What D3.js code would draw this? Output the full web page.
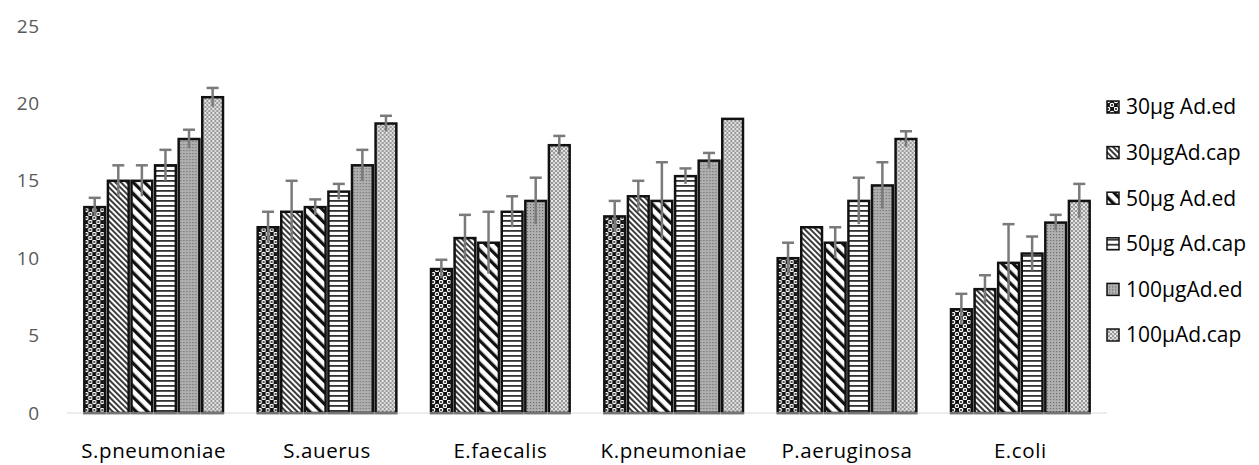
<!DOCTYPE html>
<html>
<head>
<meta charset="utf-8">
<script src="https://cdn.jsdelivr.net/npm/d3@7"></script>
<style>
  body { margin: 0; background: #fff; }
  svg { display: block; font-family: "Open Sans", "Noto Sans", sans-serif; }
</style>
</head>
<body>
<svg class="chart" width="1259" height="465"></svg>
<script>
// data
const categories = ["S.pneumoniae", "S.auerus", "E.faecalis", "K.pneumoniae", "P.aeruginosa", "E.coli"];
const seriesNames = ["30µg Ad.ed", "30µgAd.cap", "50µg Ad.ed", "50µg Ad.cap", "100µgAd.ed", "100µAd.cap"];

// one array per series, values in category order
const ed30 = [13.3, 12.0, 9.3, 12.7, 10.0, 6.7];
const cap30 = [15.0, 13.0, 11.3, 14.0, 12.0, 8.0];
const ed50 = [15.0, 13.3, 11.0, 13.7, 11.0, 9.7];
const cap50 = [16.0, 14.3, 13.0, 15.3, 13.7, 10.3];
const ed100 = [17.7, 16.0, 13.7, 16.3, 14.7, 12.3];
const cap100 = [20.4, 18.7, 17.3, 19.0, 17.7, 13.7];

// error (±) per series
const ed30Err = [0.6, 1.0, 0.6, 1.0, 1.0, 1.0];
const cap30Err = [1.0, 2.0, 1.5, 1.0, 0, 0.9];
const ed50Err = [1.0, 0.5, 2.0, 2.5, 1.0, 2.5];
const cap50Err = [1.0, 0.5, 1.0, 0.5, 1.5, 1.1];
const ed100Err = [0.6, 1.0, 1.5, 0.5, 1.5, 0.5];
const cap100Err = [0.6, 0.5, 0.6, 0, 0.5, 1.1];

const yTicks = [0, 5, 10, 15, 20, 25];

const values = [ed30, cap30, ed50, cap50, ed100, cap100];
const errors = [ed30Err, cap30Err, ed50Err, cap50Err, ed100Err, cap100Err];

const svg = d3.select(".chart");

// patterns
const defs = svg.append("defs");

// 1: black with white rings and black centres
const p1 = defs.append("pattern").attr("id", "pat0")
  .attr("patternUnits", "userSpaceOnUse").attr("width", 8).attr("height", 8);
p1.append("rect").attr("width", 8).attr("height", 8).attr("fill", "#111");
[[2, 2], [6, 6]].forEach(([cx, cy]) => {
  p1.append("circle").attr("cx", cx).attr("cy", cy).attr("r", 2.3).attr("fill", "#fff");
  p1.append("circle").attr("cx", cx).attr("cy", cy).attr("r", 1.1).attr("fill", "#222");
});

// 2: narrow downward diagonal
const p2 = defs.append("pattern").attr("id", "pat1")
  .attr("patternUnits", "userSpaceOnUse").attr("width", 4).attr("height", 4)
  .attr("patternTransform", "rotate(-45)");
p2.append("rect").attr("width", 4).attr("height", 4).attr("fill", "#fff");
p2.append("rect").attr("width", 1.9).attr("height", 4).attr("fill", "#333");

// 3: wide downward diagonal
const p3 = defs.append("pattern").attr("id", "pat2")
  .attr("patternUnits", "userSpaceOnUse").attr("width", 8).attr("height", 8)
  .attr("patternTransform", "rotate(-45)");
p3.append("rect").attr("width", 8).attr("height", 8).attr("fill", "#fff");
p3.append("rect").attr("width", 3.3).attr("height", 8).attr("fill", "#111");

// 4: horizontal lines
const p4 = defs.append("pattern").attr("id", "pat3")
  .attr("patternUnits", "userSpaceOnUse").attr("width", 4).attr("height", 5);
p4.append("rect").attr("width", 4).attr("height", 5).attr("fill", "#fff");
p4.append("rect").attr("y", 0).attr("width", 4).attr("height", 1.8).attr("fill", "#333");

// 5: gray with fine dark dots
const p5 = defs.append("pattern").attr("id", "pat4")
  .attr("patternUnits", "userSpaceOnUse").attr("width", 3).attr("height", 3);
p5.append("rect").attr("width", 3).attr("height", 3).attr("fill", "#b0b0b0");
p5.append("rect").attr("width", 1.2).attr("height", 1.2).attr("fill", "#707070");

// 6: light gray check
const p6 = defs.append("pattern").attr("id", "pat5")
  .attr("patternUnits", "userSpaceOnUse").attr("width", 4).attr("height", 4);
p6.append("rect").attr("width", 4).attr("height", 4).attr("fill", "#9a9a9a");
p6.append("rect").attr("x", 0).attr("y", 0).attr("width", 2).attr("height", 2).attr("fill", "#e8e8e8");
p6.append("rect").attr("x", 2).attr("y", 2).attr("width", 2).attr("height", 2).attr("fill", "#d8d8d8");

const plotLeft = 67, plotRight = 1107, plotTop = 26, plotBottom = 413;

const x0 = d3.scaleBand().domain(categories).range([plotLeft, plotRight]).paddingInner(0.2).paddingOuter(0.1);
const x1 = d3.scaleBand().domain(seriesNames).range([0, x0.bandwidth()]).paddingInner(0.12);
const y = d3.scaleLinear().domain([0, 25]).range([plotBottom, plotTop]);

// y tick labels (no gridlines)
svg.append("g").selectAll("text").data(yTicks).join("text")
  .attr("x", 40).attr("y", d => y(d)).attr("dy", "0.35em")
  .attr("text-anchor", "end").attr("fill", "#595959").attr("font-size", 19)
  .attr("letter-spacing", 0.8)
  .text(d => d);

// bars
const groups = svg.append("g").selectAll("g").data(categories).join("g")
  .attr("transform", d => `translate(${x0(d)},0)`);

groups.each(function (cat, ci) {
  const g = d3.select(this);
  seriesNames.forEach((s, si) => {
    const v = values[si][ci];
    g.append("rect")
      .attr("x", x1(s)).attr("y", y(v))
      .attr("width", x1.bandwidth()).attr("height", y(0) - y(v))
      .attr("fill", `url(#pat${si})`)
      .attr("stroke", "#111").attr("stroke-width", 2.5);
  });
  // error bars on top
  seriesNames.forEach((s, si) => {
    const v = values[si][ci], e = errors[si][ci];
    if (!e) return;
    const cx = x1(s) + x1.bandwidth() / 2;
    g.append("line").attr("x1", cx).attr("x2", cx)
      .attr("y1", y(v - e)).attr("y2", y(v + e))
      .attr("stroke", "#7a7a7a").attr("stroke-width", 2.5);
    g.append("line").attr("x1", cx - 6).attr("x2", cx + 6)
      .attr("y1", y(v + e)).attr("y2", y(v + e))
      .attr("stroke", "#7a7a7a").attr("stroke-width", 2.5);
  });
});

// baseline
svg.append("line").attr("x1", plotLeft).attr("x2", plotRight)
  .attr("y1", plotBottom).attr("y2", plotBottom)
  .attr("stroke", "#d9d9d9").attr("stroke-width", 1);

// category labels
svg.append("g").selectAll("text").data(categories).join("text")
  .attr("x", d => x0(d) + x0.bandwidth() / 2).attr("y", 458)
  .attr("text-anchor", "middle").attr("fill", "#000").attr("font-size", 20.5)
  .attr("letter-spacing", 0.6)
  .text(d => d);

// legend
const legend = svg.append("g").attr("transform", "translate(1106,107)");
const rows = legend.selectAll("g").data(seriesNames).join("g")
  .attr("transform", (d, i) => `translate(0,${i * 45.6})`);
rows.append("rect").attr("x", 1).attr("y", -6).attr("width", 12).attr("height", 12)
  .attr("fill", (d, i) => `url(#pat${i})`).attr("stroke", "#111").attr("stroke-width", 1.5);
rows.append("text").attr("x", 20).attr("dy", "0.35em")
  .attr("font-size", 21).attr("fill", "#000").text(d => d);
</script>
</body>
</html>
